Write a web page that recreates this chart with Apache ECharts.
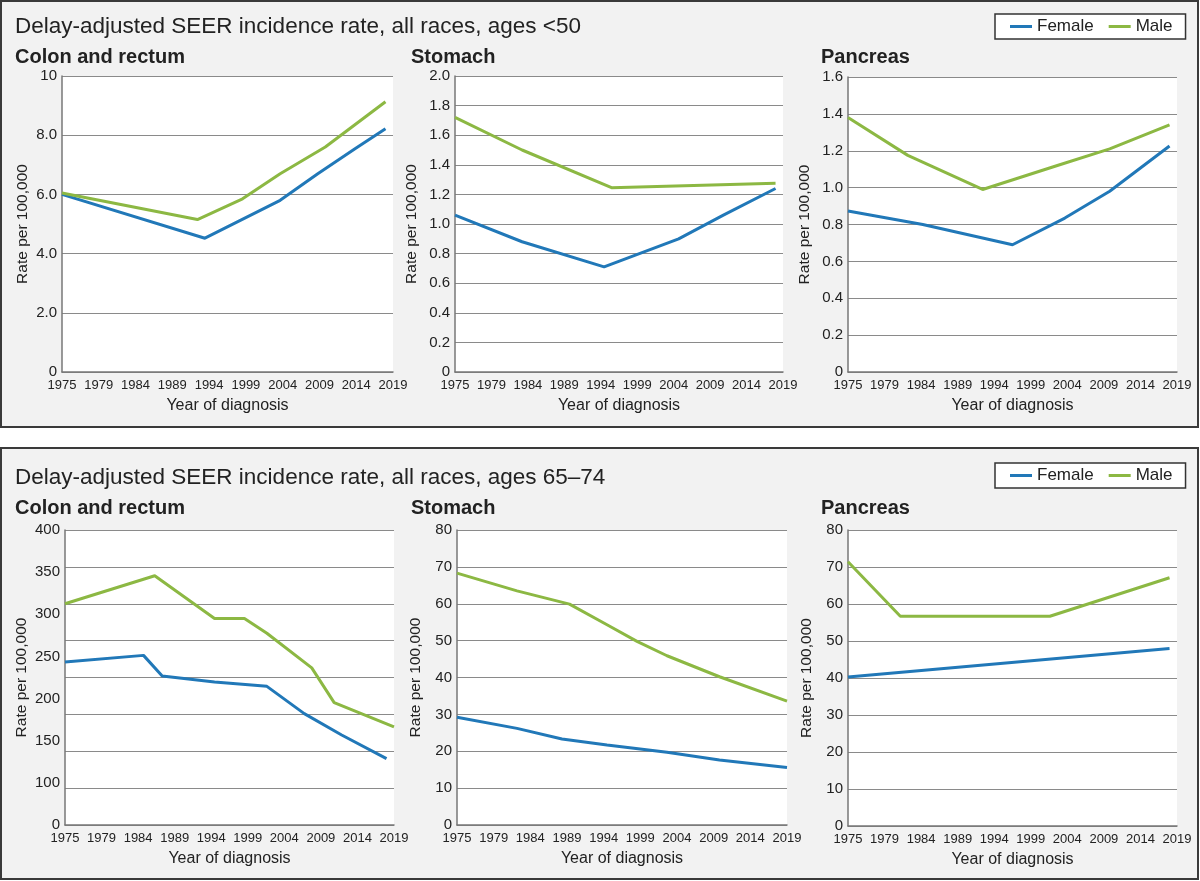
<!DOCTYPE html>
<html>
<head>
<meta charset="utf-8">
<title>Delay-adjusted SEER incidence rate</title>
<script src="https://cdn.jsdelivr.net/npm/echarts@6.0.0/dist/echarts.min.js"></script>
<style>
    html, body { margin: 0; padding: 0; background: #fff; }
    #chart { width: 1200px; height: 881px; }
</style>
</head>
<body>
<div id="chart"></div>
<script>
// x axis: ten evenly spaced labels over 1975-2019
const xTickLabels = ['1975', '1979', '1984', '1989', '1994', '1999', '2004', '2009', '2014', '2019'];

// ages <50
const youngColonFemaleYears = [1975, 1994, 2004, 2009, 2014, 2018];
const youngColonFemale = [6.0, 4.52, 5.8, 6.7, 7.55, 8.22];
const youngColonMaleYears = [1975, 1993, 1999, 2004, 2010, 2018];
const youngColonMale = [6.05, 5.15, 5.85, 6.7, 7.6, 9.13];
const youngColonTicks = ['0', '2.0', '4.0', '6.0', '8.0', '10'];

const youngStomachFemaleYears = [1975, 1984, 1995, 2005, 2011, 2018];
const youngStomachFemale = [1.06, 0.88, 0.71, 0.9, 1.06, 1.24];
const youngStomachMaleYears = [1975, 1984, 1996, 2018];
const youngStomachMale = [1.72, 1.5, 1.245, 1.275];
const youngStomachTicks = ['0', '0.2', '0.4', '0.6', '0.8', '1.0', '1.2', '1.4', '1.6', '1.8', '2.0'];

const youngPancreasFemaleYears = [1975, 1985, 1997, 2004, 2010, 2018];
const youngPancreasFemale = [0.873, 0.8, 0.69, 0.835, 0.98, 1.226];
const youngPancreasMaleYears = [1975, 1983, 1993, 2003, 2010, 2018];
const youngPancreasMale = [1.38, 1.175, 0.99, 1.12, 1.21, 1.34];
const youngPancreasTicks = ['0', '0.2', '0.4', '0.6', '0.8', '1.0', '1.2', '1.4', '1.6'];

// ages 65-74
const oldColonFemaleYears = [1975, 1985.5, 1988, 1995, 2002, 2007, 2012, 2018];
const oldColonFemale = [221, 230, 202, 194, 188, 151, 122, 90];
const oldColonMaleYears = [1975, 1987, 1995, 1999, 2002, 2008, 2011, 2019];
const oldColonMale = [300, 338, 280, 280, 260, 213, 166, 133];
// the printed labels are spread evenly and do not sit on the 50-step grid lines
const oldColonTicks = ['0', '100', '150', '200', '250', '300', '350', '400'];

const oldStomachFemaleYears = [1975, 1983, 1989, 1995, 2003, 2010, 2019];
const oldStomachFemale = [29.2, 26.2, 23.3, 21.7, 19.7, 17.6, 15.6];
const oldStomachMaleYears = [1975, 1983, 1990, 1995, 1999, 2003, 2010, 2019];
const oldStomachMale = [68.3, 63.5, 59.9, 54.3, 49.8, 45.9, 40.2, 33.6];
const oldStomachTicks = ['0', '10', '20', '30', '40', '50', '60', '70', '80'];

const oldPancreasFemaleYears = [1975, 2018];
const oldPancreasFemale = [40.3, 48.0];
const oldPancreasMaleYears = [1975, 1982, 2002, 2018];
const oldPancreasMale = [71.4, 56.7, 56.7, 67.1];
const oldPancreasTicks = ['0', '10', '20', '30', '40', '50', '60', '70', '80'];

const BLUE = '#2178b8';
const GREEN = '#8cb843';
const TEXT = '#222';
const FONT = 'Liberation Sans, Arial';

function pairs(years, values) {
    return years.map((y, i) => [y, values[i]]);
}

let panels = [
    { grid: [62, 76, 331, 296], max: 10, interval: 2, ticks: youngColonTicks, gap: 31,
      f: pairs(youngColonFemaleYears, youngColonFemale), m: pairs(youngColonMaleYears, youngColonMale) },
    { grid: [455, 76, 328, 296], max: 2, interval: 0.2, ticks: youngStomachTicks, gap: 35,
      f: pairs(youngStomachFemaleYears, youngStomachFemale), m: pairs(youngStomachMaleYears, youngStomachMale) },
    { grid: [848, 77, 329, 295], max: 1.6, interval: 0.2, ticks: youngPancreasTicks, gap: 35,
      f: pairs(youngPancreasFemaleYears, youngPancreasFemale), m: pairs(youngPancreasMaleYears, youngPancreasMale) },
    { grid: [65, 530, 329, 295], max: 400, interval: 50, ticks: oldColonTicks, gap: 35, spread: true,
      f: pairs(oldColonFemaleYears, oldColonFemale), m: pairs(oldColonMaleYears, oldColonMale) },
    { grid: [457, 530, 330, 295], max: 80, interval: 10, ticks: oldStomachTicks, gap: 33,
      f: pairs(oldStomachFemaleYears, oldStomachFemale), m: pairs(oldStomachMaleYears, oldStomachMale) },
    { grid: [848, 530, 329, 296], max: 80, interval: 10, ticks: oldPancreasTicks, gap: 33,
      f: pairs(oldPancreasFemaleYears, oldPancreasFemale), m: pairs(oldPancreasMaleYears, oldPancreasMale) }
];

let grids = [], xAxes = [], yAxes = [], series = [];
panels.forEach((p, i) => {
    grids.push({
        left: p.grid[0], top: p.grid[1], width: p.grid[2], height: p.grid[3],
        show: true, backgroundColor: '#fff', borderWidth: 0
    });
    xAxes.push({
        type: 'value', gridIndex: i, min: 1975, max: 2019,
        axisLine: { show: true, lineStyle: { color: '#777', width: 1.5 } },
        axisTick: { show: false },
        splitLine: { show: false },
        axisLabel: {
            customValues: xTickLabels.map((_, k) => 1975 + k * 44 / 9),
            formatter: (v) => xTickLabels[Math.round((v - 1975) * 9 / 44)],
            fontSize: 13, color: TEXT, margin: 7, fontFamily: FONT
        },
        name: 'Year of diagnosis', nameLocation: 'middle', nameGap: 26,
        nameTextStyle: { fontSize: 16, color: TEXT, fontFamily: FONT }
    });
    let label = {
        fontSize: 15, color: TEXT, margin: 5, fontFamily: FONT,
        formatter: (v) => p.ticks[Math.round(v / p.interval)]
    };
    if (p.spread) {
        let n = p.ticks.length - 1;
        label.customValues = p.ticks.map((_, k) => k * p.max / n);
        label.formatter = (v) => p.ticks[Math.round(v * n / p.max)];
    }
    yAxes.push({
        type: 'value', gridIndex: i, min: 0, max: p.max, interval: p.interval,
        axisLine: { show: true, lineStyle: { color: '#777', width: 1.5 } },
        axisTick: { show: false },
        splitLine: { show: true, lineStyle: { color: '#8a8a8a', width: 1 } },
        axisLabel: label,
        name: 'Rate per 100,000', nameLocation: 'middle', nameGap: p.gap,
        nameTextStyle: { fontSize: 15.5, color: TEXT, fontFamily: FONT }
    });
    series.push({
        name: 'Female', type: 'line', xAxisIndex: i, yAxisIndex: i, data: p.f,
        symbol: 'none', color: BLUE, lineStyle: { width: 3, color: BLUE }
    });
    series.push({
        name: 'Male', type: 'line', xAxisIndex: i, yAxisIndex: i, data: p.m,
        symbol: 'none', color: GREEN, lineStyle: { width: 3, color: GREEN }
    });
});

function heading(text, left, top, bold) {
    return {
        text: text, left: left, top: top, padding: 0,
        textStyle: {
            fontSize: bold ? 20 : 22.5, fontWeight: bold ? 'bold' : 'normal',
            color: TEXT, fontFamily: FONT
        }
    };
}

function legendBox(top) {
    return {
        left: 995, top: top, orient: 'horizontal',
        data: ['Female', 'Male'],
        icon: 'rect', itemWidth: 22, itemHeight: 3, itemGap: 15,
        padding: [4, 13, 4, 15],
        backgroundColor: '#fff', borderColor: '#333', borderWidth: 1.5, borderRadius: 0,
        textStyle: { fontSize: 17, color: TEXT, fontFamily: FONT },
        selectedMode: false
    };
}

let chart = echarts.init(document.getElementById('chart'));
let option = {
    animation: false,
    graphic: [
        { type: 'rect', z: -10, shape: { x: 1, y: 1, width: 1197, height: 426 },
          style: { fill: '#f2f2f2', stroke: '#3a3a3a', lineWidth: 2 } },
        { type: 'rect', z: -10, shape: { x: 1, y: 448, width: 1197, height: 431 },
          style: { fill: '#f2f2f2', stroke: '#3a3a3a', lineWidth: 2 } }
    ],
    title: [
        heading('Delay-adjusted SEER incidence rate, all races, ages <50', 15, 15, false),
        heading('Colon and rectum', 15, 47, true),
        heading('Stomach', 411, 47, true),
        heading('Pancreas', 821, 47, true),
        heading('Delay-adjusted SEER incidence rate, all races, ages 65\u201374', 15, 466, false),
        heading('Colon and rectum', 15, 498, true),
        heading('Stomach', 411, 498, true),
        heading('Pancreas', 821, 498, true)
    ],
    legend: [legendBox(14), legendBox(463)],
    grid: grids,
    xAxis: xAxes,
    yAxis: yAxes,
    series: series
};
chart.setOption(option);
</script>
</body>
</html>
